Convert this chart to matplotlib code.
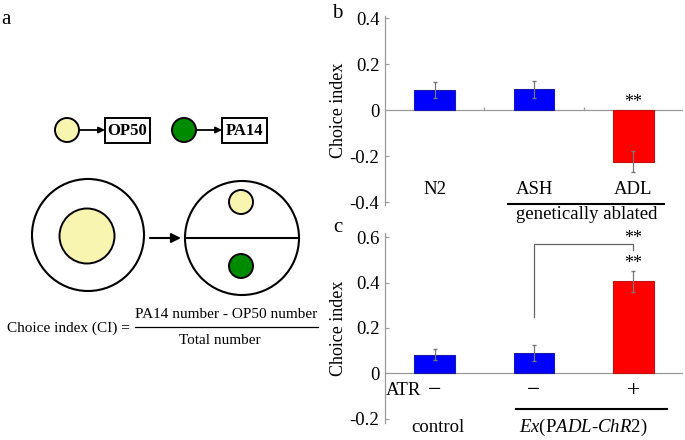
import matplotlib
matplotlib.use('Agg')
import matplotlib.pyplot as plt
from matplotlib.patches import Circle, Rectangle
import numpy as np

plt.rcParams['font.family'] = ['Liberation Serif', 'DejaVu Serif']
plt.rcParams['mathtext.fontset'] = 'custom'
plt.rcParams['mathtext.rm'] = 'Liberation Serif'
plt.rcParams['mathtext.it'] = 'Liberation Serif:italic'
plt.rcParams['axes.unicode_minus'] = False

# panel b data
b_labels = ['N2', 'ASH', 'ADL']
b_values = [0.086, 0.09, -0.225]
b_errors = [0.035, 0.035, 0.045]
b_colors = ['#0000ff', '#0000ff', '#ff0000']
b_ticks = [0.4, 0.2, 0, -0.2, -0.4]
b_ticklabels = ['0.4', '0.2', '0', '-0.2', '-0.4']

# panel c data
c_atr = ['\u2212', '\u2212', '+']
c_values = [0.083, 0.09, 0.405]
c_errors = [0.025, 0.035, 0.045]
c_colors = ['#0000ff', '#0000ff', '#ff0000']
c_ticks = [0.6, 0.4, 0.2, 0, -0.2]
c_ticklabels = ['0.6', '0.4', '0.2', '0', '-0.2']

W, H = 685, 440
fig = plt.figure(figsize=(6.85, 4.4), dpi=100)
fig.patch.set_facecolor('white')

GRAY = '#9a9a9a'
edge = {'#0000ff': '#1a1aa8', '#ff0000': '#c01010'}


def px_axes(x0, y0, x1, y1):
    # pixel box (top-left origin) -> figure axes
    return fig.add_axes([x0 / W, 1 - y1 / H, (x1 - x0) / W, (y1 - y0) / H])


def px_text(x, y, s, **kw):
    fig.text(x / W, 1 - y / H, s, ha='center', va='center', **kw)


def style_bar_axes(ax, ylim, ticks, ticklabels):
    x = np.arange(1, 4)
    ax.set_xlim(0.5, 3.5)
    ax.set_ylim(*ylim)
    for s in ['top', 'right', 'bottom']:
        ax.spines[s].set_visible(False)
    ax.spines['left'].set_color(GRAY)
    ax.spines['left'].set_linewidth(0.9)
    ax.axhline(0, color=GRAY, lw=0.9, zorder=1)
    ax.set_xticks([])
    ax.set_yticks(ticks)
    ax.set_yticklabels(ticklabels)
    ax.tick_params(axis='y', direction='in', length=3, color=GRAY,
                   labelsize=13.5, pad=4)
    ax.set_ylabel('Choice index', fontsize=13)
    ax.yaxis.set_label_coords(-0.127, 0.5)
    ax.patch.set_alpha(0)
    return x


# ---------- panel b ----------
axb = px_axes(385, 16, 683, 205)
x = style_bar_axes(axb, (-0.413, 0.41), b_ticks, b_ticklabels)
axb.bar(x, b_values, width=0.41, color=b_colors,
        edgecolor=[edge[c] for c in b_colors], lw=0.8, zorder=2)
axb.errorbar(x, b_values, yerr=b_errors, fmt='none', ecolor='#777777',
             elinewidth=0.9, capsize=1.5, zorder=3)
axb.vlines([1.5, 2.5], 0, 0.012, color=GRAY, lw=0.9)
for xi, lab in zip(x, b_labels):
    axb.text(xi, -0.345, lab, ha='center', va='center', fontsize=13.5)
axb.text(3, 0.035, '**', ha='center', va='center', fontsize=13)
axb.plot([1.74, 3.31], [-0.41, -0.41], color='black', lw=1.5, clip_on=False)
axb.text(2.53, -0.453, 'genetically ablated', ha='center', va='center',
         fontsize=13.5, clip_on=False)
px_text(337, 13, 'b', fontsize=15)

# ---------- panel c ----------
axc = px_axes(385, 233, 683, 423)
x = style_bar_axes(axc, (-0.218, 0.618), c_ticks, c_ticklabels)
axc.bar(x, c_values, width=0.41, color=c_colors,
        edgecolor=[edge[c] for c in c_colors], lw=0.8, zorder=2)
axc.errorbar(x, c_values, yerr=c_errors, fmt='none', ecolor='#777777',
             elinewidth=0.9, capsize=1.5, zorder=3)
for xi, lab in zip(x, c_atr):
    axc.text(xi, -0.075, lab, ha='center', va='center', fontsize=17)
axc.text(0.86, -0.075, 'ATR', ha='right', va='center', fontsize=13.5)
axc.plot([1.82, 3.34], [-0.155, -0.155], color='black', lw=1.5, clip_on=False)
axc.text(1.03, -0.237, 'control', ha='center', va='center', fontsize=13.5,
         clip_on=False)
axc.text(2.5, -0.237,
         r'$\mathit{Ex}\mathrm{(P}\mathit{ADL}$-$\mathit{ChR}$$\mathit{2}\mathrm{)}$',
         ha='center', va='center', fontsize=13.5, clip_on=False)
# significance bracket
axc.plot([2, 2, 3, 3], [0.25, 0.57, 0.57, 0.545], color='#666666', lw=0.9)
axc.text(3, 0.592, '**', ha='center', va='center', fontsize=13)
axc.text(3, c_values[2] + c_errors[2] + 0.035, '**', ha='center', va='center',
         fontsize=13)
px_text(338, 227, 'c', fontsize=15)

# ---------- panel a (schematic) ----------
axa = px_axes(0, 0, 330, 440)
axa.set_xlim(0, 330)
axa.set_ylim(440, 0)
axa.axis('off')

YELLOW = '#f7f5b0'
GREEN = '#008a00'
px_text(6, 19, 'a', fontsize=15)

# legend row
arrow = dict(arrowstyle='-|>', color='black', lw=1.3, mutation_scale=9,
             shrinkA=0, shrinkB=0)
for cx, fill, bx, name in [(67, YELLOW, 105, 'OP50'), (184, GREEN, 222, 'PA14')]:
    axa.add_patch(Circle((cx, 130), 12, facecolor=fill, edgecolor='black', lw=1.4))
    axa.annotate('', xy=(bx, 130), xytext=(cx + 12, 130), arrowprops=arrow)
    axa.add_patch(Rectangle((bx, 118), 45, 25, facecolor='white',
                            edgecolor='black', lw=1.4))
    axa.text(bx + 22.5, 131, name, ha='center', va='center', fontsize=12,
             fontweight='bold')

# plates
axa.add_patch(Circle((88, 235), 56, facecolor='white', edgecolor='black', lw=1.5))
axa.add_patch(Circle((87, 236), 27.5, facecolor=YELLOW, edgecolor='black', lw=1.4))
axa.annotate('', xy=(181, 238), xytext=(150, 238),
             arrowprops=dict(arrowstyle='-|>', color='black', lw=1.5,
                             mutation_scale=14, shrinkA=0, shrinkB=0))
axa.add_patch(Circle((242, 238), 57, facecolor='white', edgecolor='black', lw=1.5))
axa.plot([185, 299], [238, 238], color='black', lw=1.5)
axa.add_patch(Circle((241, 202), 12, facecolor=YELLOW, edgecolor='black', lw=1.4))
axa.add_patch(Circle((241, 266), 12, facecolor=GREEN, edgecolor='black', lw=1.4))

# formula
axa.text(7, 328, 'Choice index (CI) =', ha='left', va='center', fontsize=11)
axa.text(226, 314, 'PA14 number - OP50 number', ha='center', va='center',
         fontsize=11)
axa.plot([135, 318], [327, 327], color='black', lw=0.9)
axa.text(220, 341, 'Total number', ha='center', va='center', fontsize=11)

fig.savefig('out.png', dpi=100)
